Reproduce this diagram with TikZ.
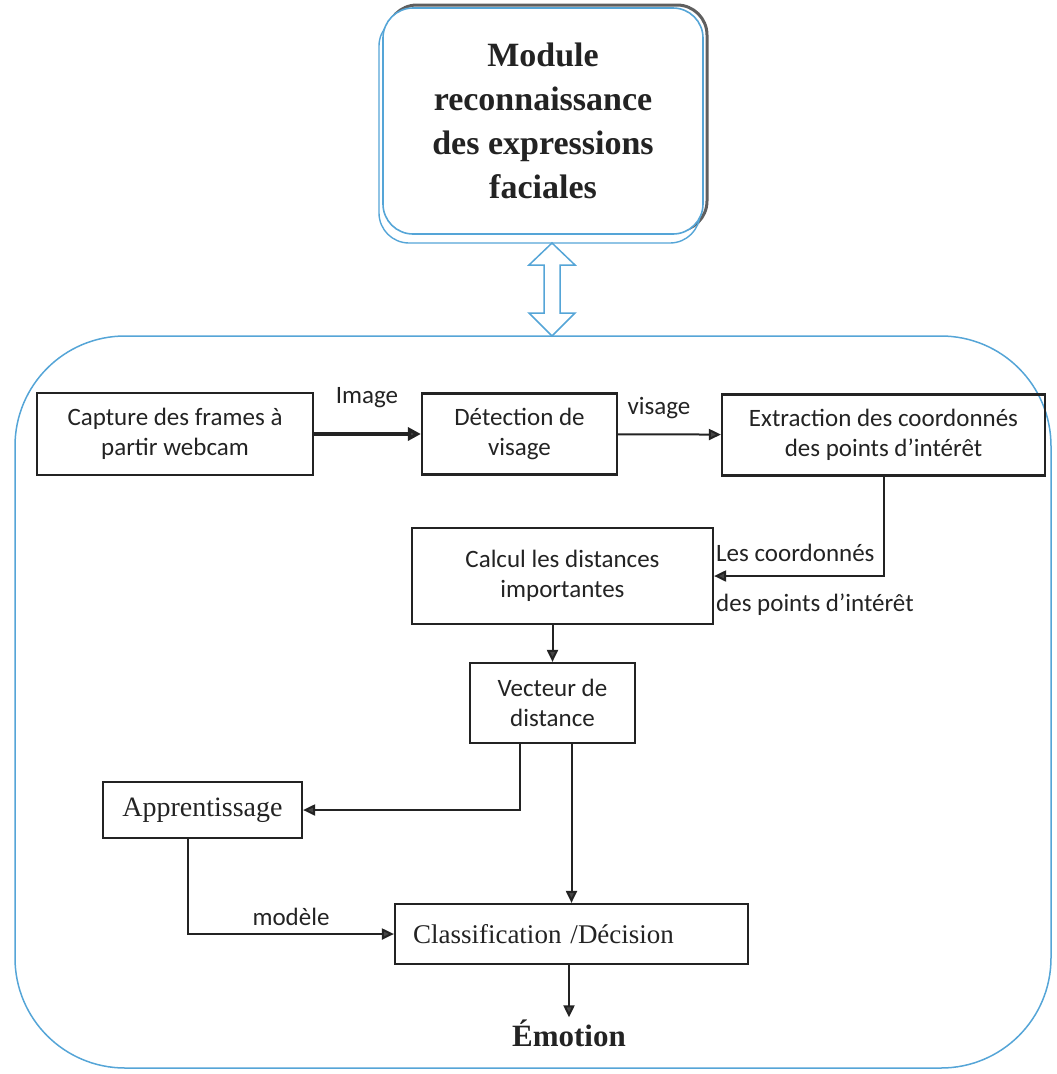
\documentclass[tikz,border=0pt]{standalone}
\usepackage{fontspec}
\setmainfont{Liberation Serif}
\newfontfamily\carlito{Carlito}
\usetikzlibrary{arrows.meta}
\definecolor{frameblue}{RGB}{85,165,215}
\definecolor{shadowgray}{RGB}{95,95,95}
\definecolor{ink}{RGB}{35,35,35}
\definecolor{tipgray}{RGB}{70,70,70}
\begin{document}
\begin{tikzpicture}[x=1pt,y=-1pt,
  stage/.style={draw=ink, line width=2.2pt, align=center, inner sep=0pt,
    font=\carlito\fontsize{25}{30}\selectfont, text=ink},
  serifstage/.style={stage, font=\fontsize{28}{32}\selectfont},
  flow/.style={draw=ink, line width=2pt, -{Triangle[length=12pt,width=11pt,fill=tipgray]}},
  tag/.style={font=\carlito\fontsize{25}{30}\selectfont, text=ink, inner sep=0pt},
]
\useasboundingbox (0,0) rectangle (1057,1074);

% system frame
\node[draw=frameblue, line width=1.5pt, rounded corners=110pt,
      minimum width=1036pt, minimum height=732pt, inner sep=0pt] (sys) at (533,702) {};

% module box with its shadow and second outline
\draw[shadowgray, line width=3pt, rounded corners=30pt] (387,5) rectangle (707,231);
\draw[frameblue, line width=1.4pt, rounded corners=30pt] (379,16) rectangle (700,243);
\node[draw=frameblue, line width=1.6pt, fill=white, rounded corners=30pt,
      minimum width=320pt, minimum height=226pt, inner sep=0pt, align=center,
      font=\bfseries\fontsize{34}{44}\selectfont, text=ink]
  (mod) at (543,121) {Module\\reconnaissance\\des expressions\\faciales};

% hollow double arrow between the module and the system
\draw[frameblue, line width=1.5pt, fill=white, line join=miter]
  (552,243) -- (575,265) -- (560,265) -- (560,313) -- (575,313) -- (552,336)
  -- (529,313) -- (544,313) -- (544,265) -- (529,265) -- cycle;

% processing stages
\node[stage, minimum width=276pt, minimum height=82pt] (cap) at (175,434)
  {Capture des frames à\\partir webcam};
\node[stage, minimum width=195pt, minimum height=81pt] (det) at (519.5,434)
  {Détection de\\visage};
\node[stage, minimum width=323pt, minimum height=81pt] (ext) at (883.5,435)
  {Extraction des coordonnés\\des points d’intérêt};
\node[stage, minimum width=301pt, minimum height=96pt] (calc) at (562.5,576)
  {Calcul les distances\\importantes};
\node[stage, minimum width=165pt, minimum height=80pt] (vec) at (552.5,703)
  {Vecteur de\\distance};
\node[serifstage, minimum width=199pt, minimum height=56pt] (app) at (202.5,810)
  {Apprentissage};
\node[serifstage, minimum height=60pt, text width=317pt, inner xsep=18pt, align=left,
      font=\fontsize{27}{32}\selectfont] (cls) at (571.5,934)
  {Classification /Décision};
\node[font=\bfseries\fontsize{31}{36}\selectfont, text=ink, inner sep=2pt] (emo) at (569,1033)
  {Émotion};

% labels
\node[tag] (limg) at (367,398) {Image};
\node[tag] (lvis) at (659,408) {visage};
\node[tag, anchor=west] (lco1) at (716,553) {Les coordonnés};
\node[tag, anchor=west] (lco2) at (716,605) {des points d’intérêt};
\node[tag] (lmod) at (291,917) {modèle};

% connectors
\draw[flow, line width=4pt, -{Triangle[length=13pt,width=13pt,fill=tipgray]}] (cap) -- (det);
\draw[flow] (det) -- (ext);
\draw[flow] (ext.south) |- (calc.east);
\draw[flow] (vec.north |- calc.south) -- (vec.north);
\draw[flow] ([xshift=-32.5pt]vec.south) |- (app.east);
\draw[flow] (vec.south -| cls.north) -- (cls.north);
\draw[flow] ([xshift=-14.5pt]app.south) |- (cls.west);
\draw[flow] (emo.north |- cls.south) -- (emo.north);
\end{tikzpicture}
\end{document}
